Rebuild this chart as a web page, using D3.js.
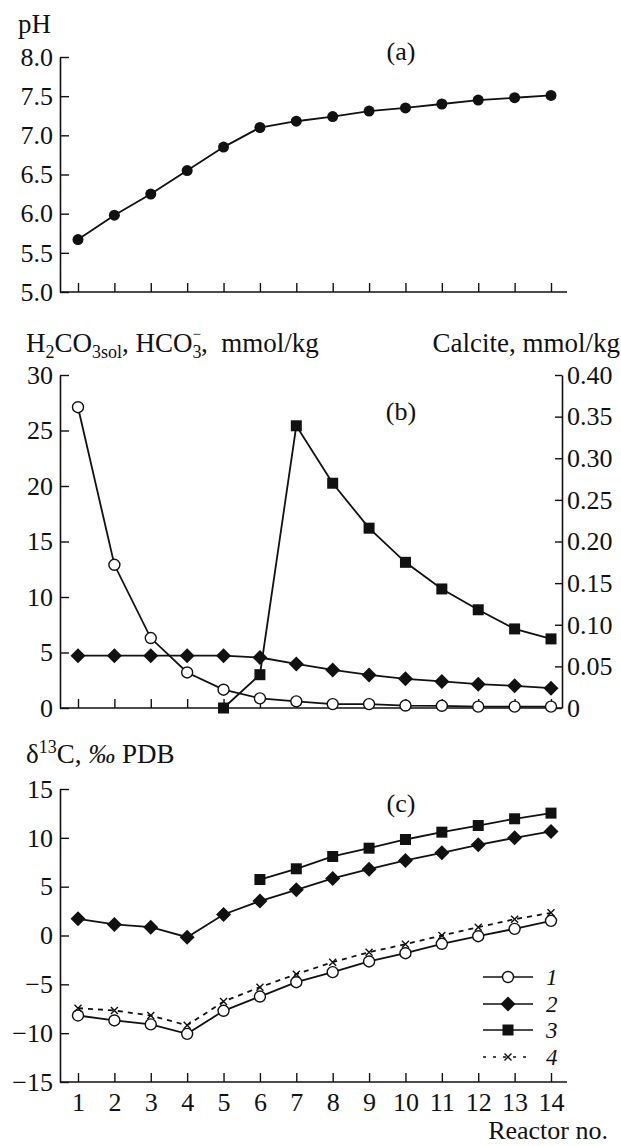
<!DOCTYPE html>
<html>
<head>
<meta charset="utf-8">
<script src="https://cdn.jsdelivr.net/npm/d3@7"></script>
<style>
  html, body { margin: 0; padding: 0; background: #fff; }
  svg { display: block; font-family: "Liberation Serif", "DejaVu Serif", serif; }
</style>
</head>
<body>
<svg id="chart" width="621" height="1146"></svg>
<script>
// ---------- data ----------
const reactors = [1, 2, 3, 4, 5, 6, 7, 8, 9, 10, 11, 12, 13, 14];
const phValues = [5.67, 5.98, 6.25, 6.55, 6.85, 7.10, 7.18, 7.24, 7.31, 7.35, 7.40, 7.45, 7.48, 7.51];
const h2co3 = [27.1, 12.9, 6.3, 3.2, 1.65, 0.87, 0.6, 0.35, 0.35, 0.22, 0.2, 0.12, 0.12, 0.12];
const hco3 = [4.71, 4.71, 4.71, 4.71, 4.71, 4.55, 3.97, 3.43, 2.98, 2.63, 2.39, 2.15, 2.0, 1.79];
const calcite = [null, null, null, null, 0.0, 0.04, 0.339, 0.27, 0.216, 0.175, 0.143, 0.118, 0.095, 0.083];
const d13c1 = [-8.19, -8.7, -9.1, -10.07, -7.71, -6.25, -4.78, -3.75, -2.66, -1.81, -0.85, -0.07, 0.68, 1.5];
const d13c2 = [1.71, 1.13, 0.85, -0.17, 2.15, 3.52, 4.68, 5.84, 6.79, 7.68, 8.46, 9.28, 10.0, 10.65];
const d13c3 = [null, null, null, null, null, 5.73, 6.83, 8.09, 8.94, 9.83, 10.58, 11.26, 11.95, 12.53];
const d13c4 = [-7.44, -7.68, -8.19, -9.2, -6.76, -5.29, -3.96, -2.73, -1.71, -0.89, 0.0, 0.85, 1.67, 2.32];
const phTicks = [5.0, 5.5, 6.0, 6.5, 7.0, 7.5, 8.0];
const bLeftTicks = [0, 5, 10, 15, 20, 25, 30];
const bRightTicks = [0, 0.05, 0.10, 0.15, 0.20, 0.25, 0.30, 0.35, 0.40];
const cTicks = [-15, -10, -5, 0, 5, 10, 15];
const legendLabels = ["1", "2", "3", "4"];

// ---------- layout ----------
const svg = d3.select("#chart");
const X0 = 60, XEND = 567, XR = 562;
const FS = 26;
const LFS = 27;
const ink = "#111";

const x = d3.scaleLinear().domain([1, 14]).range([78, 551]);

const yA = d3.scaleLinear().domain([5, 8]).range([292, 57]);
const yB = d3.scaleLinear().domain([0, 30]).range([708, 375]);
const yBR = d3.scaleLinear().domain([0, 0.40]).range([708, 375]);
const yC = d3.scaleLinear().domain([-15, 15]).range([1082, 789]);

const minus = s => String(s).replace("-", "\u2212");

function styleAxis(g) {
  g.selectAll("path.domain").attr("stroke", ink).attr("stroke-width", 1.6);
  g.selectAll(".tick line").attr("stroke", ink).attr("stroke-width", 1.4);
  g.selectAll(".tick text").attr("fill", ink).attr("font-size", FS)
    .attr("font-family", "Liberation Serif, serif");
}

function xAxis(yPos, xEnd, withLabels) {
  const g = svg.append("g").attr("transform", `translate(0,${yPos})`);
  g.call(d3.axisBottom(x).tickValues(reactors).tickSize(-9).tickSizeOuter(0)
    .tickPadding(12).tickFormat(withLabels ? d3.format("d") : ""));
  g.select("path.domain").attr("d", `M${X0},0H${xEnd}`);
  styleAxis(g);
  if (withLabels) g.selectAll(".tick text").attr("dy", "0.71em").attr("y", 11);
  return g;
}

function yAxisLeft(scale, ticks, fmt) {
  const g = svg.append("g").attr("transform", `translate(${X0},0)`);
  g.call(d3.axisLeft(scale).tickValues(ticks).tickSize(-9).tickSizeOuter(0)
    .tickPadding(7).tickFormat(fmt));
  styleAxis(g);
  return g;
}

function line(scale, vals, dash) {
  const data = reactors.map((r, i) => ({ r, v: vals[i] })).filter(d => d.v !== null);
  svg.append("path").datum(data)
    .attr("fill", "none").attr("stroke", ink).attr("stroke-width", 1.8)
    .attr("stroke-dasharray", dash || null)
    .attr("d", d3.line().x(d => x(d.r)).y(d => scale(d.v)));
  return data;
}

function markers(scale, vals, type) {
  const data = reactors.map((r, i) => ({ r, v: vals[i] })).filter(d => d.v !== null);
  const g = svg.append("g");
  data.forEach(d => drawMarker(g, x(d.r), scale(d.v), type));
}

function drawMarker(g, cx, cy, type) {
  if (type === "dot") {
    g.append("circle").attr("cx", cx).attr("cy", cy).attr("r", 5.5).attr("fill", ink);
  } else if (type === "open") {
    g.append("circle").attr("cx", cx).attr("cy", cy).attr("r", 5.5)
      .attr("fill", "#fff").attr("stroke", ink).attr("stroke-width", 1.4);
  } else if (type === "diamond") {
    const s = 7.5;
    g.append("path").attr("d", `M${cx},${cy - s}L${cx + s},${cy}L${cx},${cy + s}L${cx - s},${cy}Z`)
      .attr("fill", ink);
  } else if (type === "square") {
    const s = 5.5;
    g.append("rect").attr("x", cx - s).attr("y", cy - s).attr("width", 2 * s).attr("height", 2 * s)
      .attr("fill", ink);
  } else if (type === "cross") {
    const s = 3.5;
    g.append("path").attr("d", `M${cx - s},${cy - s}L${cx + s},${cy + s}M${cx - s},${cy + s}L${cx + s},${cy - s}`)
      .attr("stroke", ink).attr("stroke-width", 1.4);
  }
}

function text(xp, yp, str, opts = {}) {
  return svg.append("text").attr("x", xp).attr("y", yp)
    .attr("font-size", opts.size || FS).attr("fill", ink)
    .attr("text-anchor", opts.anchor || "start")
    .attr("font-style", opts.italic ? "italic" : null)
    .text(str);
}

// ---------- panel (a) ----------
xAxis(292, XEND, false);
yAxisLeft(yA, phTicks, d3.format(".1f"));
text(18, 33, "pH", { size: LFS });
text(401, 60, "(a)", { anchor: "middle" });
line(yA, phValues);
markers(yA, phValues, "dot");

// ---------- panel (b) ----------
xAxis(708, XR, false);
yAxisLeft(yB, bLeftTicks, d3.format("d"));
{
  const g = svg.append("g").attr("transform", `translate(${XR},0)`);
  g.call(d3.axisRight(yBR).tickValues(bRightTicks).tickSize(-7).tickSizeOuter(0)
    .tickPadding(5).tickFormat(d => d === 0 ? "0" : d3.format(".2f")(d)));
  styleAxis(g);
}
{
  const t = svg.append("text").attr("x", 26).attr("y", 352).attr("font-size", LFS).attr("fill", ink);
  t.append("tspan").text("H");
  t.append("tspan").attr("font-size", 18).attr("dy", 6).text("2");
  t.append("tspan").attr("dy", -6).text("CO");
  t.append("tspan").attr("font-size", 18).attr("dy", 6).text("3sol");
  t.append("tspan").attr("dy", -6).text(", HCO");
  t.append("tspan").attr("font-size", 18).attr("dy", 6).text("3");
  t.append("tspan").attr("font-size", 15).attr("dx", -9).attr("dy", -19).text("\u2212");
  t.append("tspan").attr("dy", 13).text(",\u00a0\u00a0mmol/kg");
}
text(620, 352, "Calcite, mmol/kg", { anchor: "end", size: LFS });
text(401, 420, "(b)", { anchor: "middle" });
line(yB, h2co3);
line(yB, hco3);
line(yBR, calcite);
markers(yB, h2co3, "open");
markers(yB, hco3, "diamond");
markers(yBR, calcite, "square");

// ---------- panel (c) ----------
xAxis(1082, XEND, true);
yAxisLeft(yC, cTicks, d => minus(d));
{
  const t = svg.append("text").attr("x", 26).attr("y", 763).attr("font-size", LFS).attr("fill", ink);
  t.append("tspan").text("\u03b4");
  t.append("tspan").attr("font-size", 18).attr("dy", -10).text("13");
  t.append("tspan").attr("dy", 10).text("C, ");
  t.append("tspan").attr("font-style", "italic").text("\u2030");
  t.append("tspan").text(" PDB");
}
text(401, 812, "(c)", { anchor: "middle" });
text(608, 1139, "Reactor no.", { anchor: "end" });

line(yC, d13c4, "5,5");
line(yC, d13c1);
line(yC, d13c2);
line(yC, d13c3);
markers(yC, d13c1, "open");
markers(yC, d13c2, "diamond");
markers(yC, d13c3, "square");
markers(yC, d13c4, "cross");

// legend
const legendTypes = ["open", "diamond", "square", "cross"];
const legendY = [977, 1004, 1030, 1057];
const lg = svg.append("g");
legendLabels.forEach((lab, i) => {
  const yy = legendY[i];
  lg.append("line").attr("x1", 483).attr("x2", 533).attr("y1", yy).attr("y2", yy)
    .attr("stroke", ink).attr("stroke-width", 1.6)
    .attr("stroke-dasharray", i === 3 ? "3,7" : null);
  drawMarker(lg, 508, yy, legendTypes[i]);
  lg.append("text").attr("x", 546).attr("y", yy + 8).attr("font-size", 23)
    .attr("font-style", "italic").attr("fill", ink).text(lab);
});
</script>
</body>
</html>
